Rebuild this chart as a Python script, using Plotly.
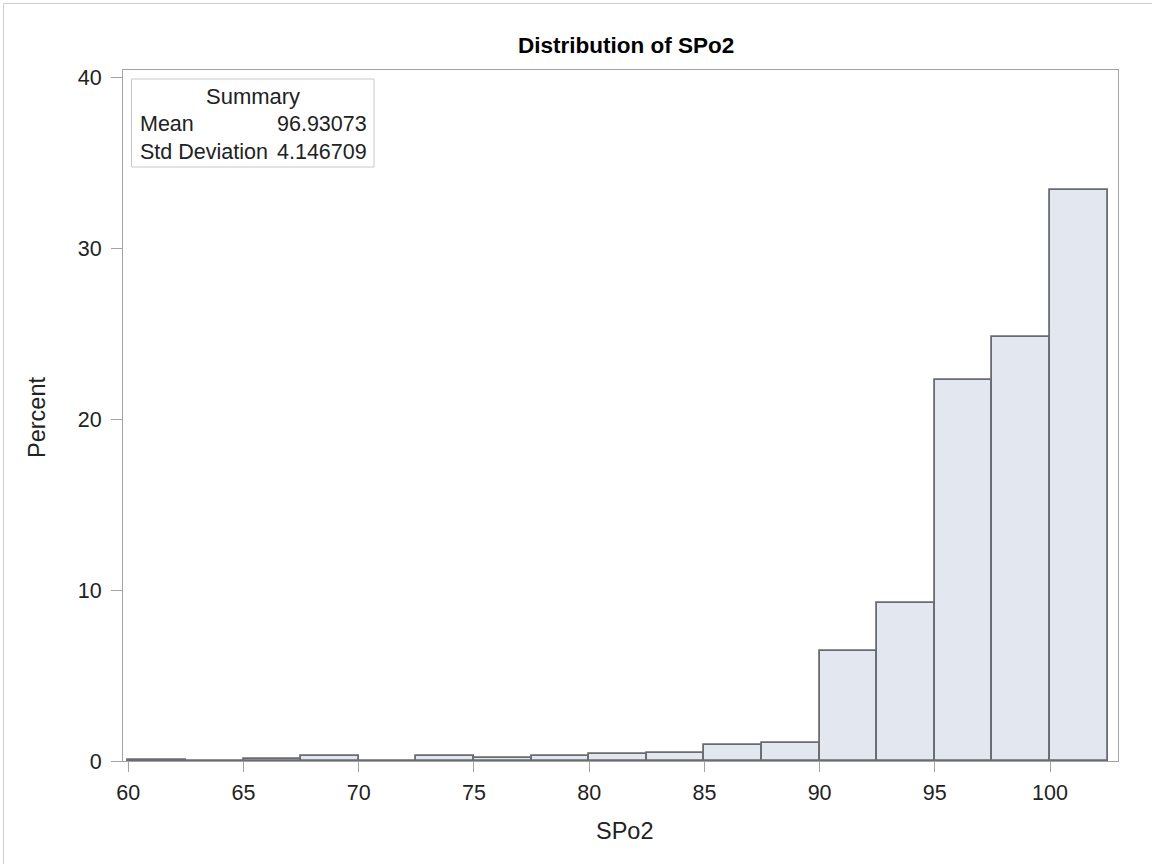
import plotly.graph_objects as go

# Histogram of SPo2, bins of width 2.5 starting at 60
bin_left = [60, 62.5, 65, 67.5, 70, 72.5, 75, 77.5, 80, 82.5, 85, 87.5, 90, 92.5, 95, 97.5, 100]
percent = [0.03, 0.02, 0.10, 0.29, 0.0, 0.29, 0.17, 0.27, 0.41, 0.49, 0.94, 1.08, 6.42, 9.24, 22.3, 24.83, 33.4]
bin_width = 2.5
x_ticks = [60, 65, 70, 75, 80, 85, 90, 95, 100]
y_ticks = [0, 10, 20, 30, 40]
summary_labels = ["Mean", "Std Deviation"]
summary_values = ["96.93073", "4.146709"]

centers = [b + bin_width / 2 for b in bin_left]

W, H = 1152, 864
L, R, T, B = 123, 1118, 70, 761
pw, ph = R - L, B - T

def px(x):
    return (x - L) / pw

def py(y):
    return (B - y) / ph

font_family = "Liberation Sans, Arial, sans-serif"
text_col = "#222222"
frame_col = "#A3A3A3"
tick_size = 21.5

fig = go.Figure()
fig.add_trace(go.Bar(
    x=centers, y=percent, width=bin_width,
    marker=dict(color="#E3E7F0", line=dict(color="#6A6C72", width=1.8)),
    hoverinfo="x+y",
))

fig.update_layout(
    width=W, height=H,
    margin=dict(l=L, r=W - R, t=T, b=H - B, pad=0),
    paper_bgcolor="white", plot_bgcolor="white",
    showlegend=False, bargap=0,
    font=dict(family=font_family, size=tick_size, color=text_col),
    xaxis=dict(range=[59.77, 102.95], tickvals=x_ticks, ticktext=[str(v) for v in x_ticks],
               ticks="outside", ticklen=10, tickcolor=frame_col, showgrid=False, zeroline=False,
               showline=True, linecolor=frame_col, mirror=True, linewidth=1,
               ticklabelstandoff=2, tickfont=dict(size=tick_size)),
    yaxis=dict(range=[0, 40.45], tickvals=y_ticks, ticktext=[str(v) for v in y_ticks],
               ticks="outside", ticklen=11, tickcolor=frame_col, showgrid=False, zeroline=False,
               showline=True, linecolor=frame_col, mirror=True, linewidth=1,
               ticklabelstandoff=5, tickfont=dict(size=tick_size)),
)

# Title and axis titles
fig.add_annotation(xref="paper", yref="paper", x=px(626), y=py(45),
                   text="<b>Distribution of SPo2</b>", showarrow=False,
                   xanchor="center", yanchor="middle",
                   font=dict(size=22.5, color="#000000"))
fig.add_annotation(xref="paper", yref="paper", x=px(625), y=py(831),
                   text="SPo2", showarrow=False, xanchor="center", yanchor="middle",
                   font=dict(size=23.5))
fig.add_annotation(xref="paper", yref="paper", x=px(37), y=py(418),
                   text="Percent", showarrow=False, textangle=-90,
                   xanchor="center", yanchor="middle", font=dict(size=23.5))

# Summary inset box
fig.add_shape(type="rect", xref="paper", yref="paper",
              x0=px(131.5), x1=px(374), y0=py(167), y1=py(79),
              line=dict(color="#C8C8C8", width=1), fillcolor="white", layer="above")
fig.add_annotation(xref="paper", yref="paper", x=px(253), y=py(96), text="Summary",
                   showarrow=False, xanchor="center", yanchor="middle", font=dict(size=22))
for i, (lab, val) in enumerate(zip(summary_labels, summary_values)):
    yy = py(124 + 28 * i)
    fig.add_annotation(xref="paper", yref="paper", x=px(138), y=yy, text=lab,
                       showarrow=False, xanchor="left", yanchor="middle", font=dict(size=21.5))
    fig.add_annotation(xref="paper", yref="paper", x=px(369), y=yy, text=val,
                       showarrow=False, xanchor="right", yanchor="middle", font=dict(size=21.5))

# Outer image border (top and left visible)
fig.add_shape(type="rect", xref="paper", yref="paper",
              x0=px(3.5), x1=px(1160), y0=py(870), y1=py(3.5),
              line=dict(color="#CFCFCF", width=1), layer="above")

fig.write_html("out.html")
